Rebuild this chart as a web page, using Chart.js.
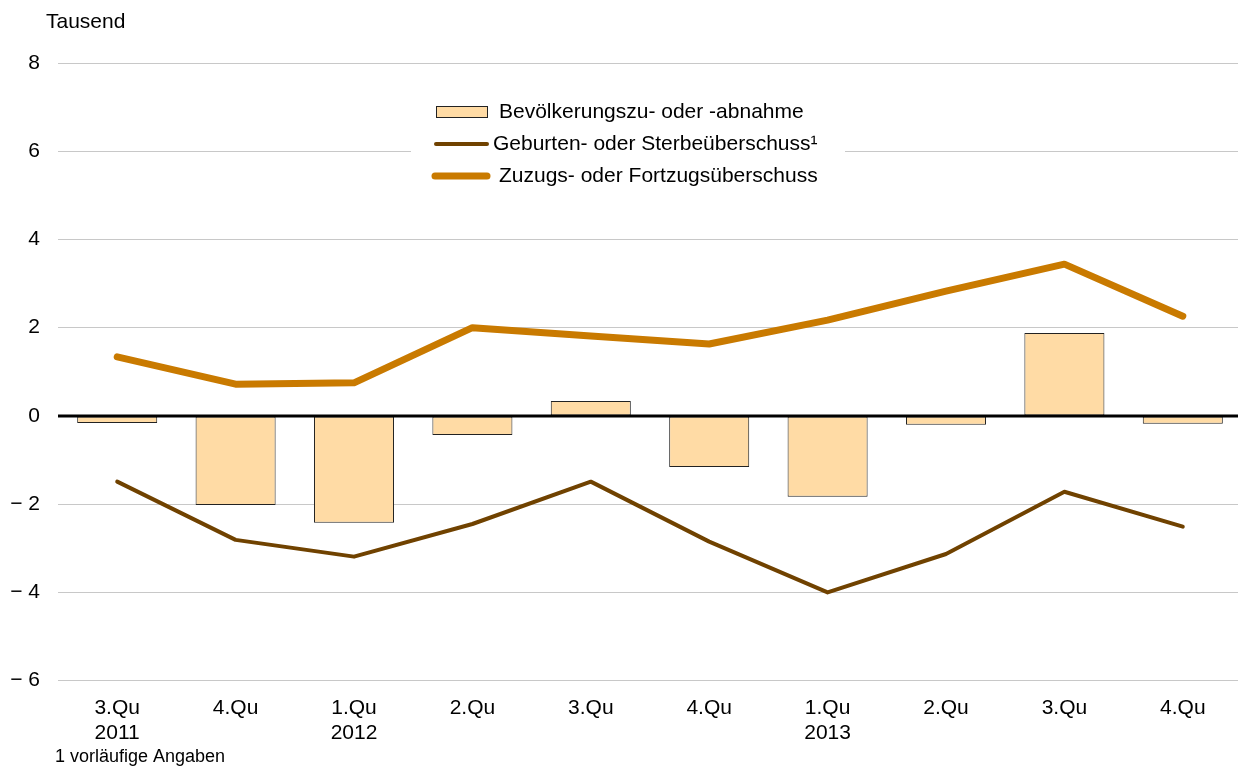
<!DOCTYPE html>
<html>
<head>
<meta charset="utf-8">
<script src="https://cdn.jsdelivr.net/npm/chart.js@4.4.1/dist/chart.umd.min.js"></script>
<style>
html,body{margin:0;padding:0;background:#fff;overflow:hidden;}
#wrap{position:relative;width:1242px;height:766px;}
</style>
</head>
<body>
<div id="wrap"><canvas id="c" width="1242" height="766"></canvas></div>
<script>
const categories = [["3.Qu","2011"],["4.Qu",""],["1.Qu","2012"],["2.Qu",""],["3.Qu",""],["4.Qu",""],["1.Qu","2013"],["2.Qu",""],["3.Qu",""],["4.Qu",""]];
const bevoelkerung = [-0.16, -2.02, -2.42, -0.43, 0.34, -1.16, -1.83, -0.20, 1.88, -0.18];
const geburten = [-1.49, -2.81, -3.19, -2.45, -1.49, -2.85, -4.00, -3.13, -1.72, -2.51];
const zuzugs = [1.34, 0.72, 0.75, 2.00, 1.81, 1.63, 2.17, 2.83, 3.44, 2.26];
const yTickLabels = {"8":"8","6":"6","4":"4","2":"2","0":"0","-2":"\u2212 2","-4":"\u2212 4","-6":"\u2212 6"};
const legendLabels = ["Bevölkerungszu- oder -abnahme","Geburten- oder Sterbeüberschuss¹","Zuzugs- oder Fortzugsüberschuss"];

const FONT = "'Liberation Sans', Arial, sans-serif";
const COL_BAR = "#FFDBA5", COL_BROWN = "#704200", COL_ORANGE = "#C97A00";

const extras = {
  id: 'extras',
  afterDatasetsDraw(chart) {
    const ctx = chart.ctx, y = chart.scales.y, a = chart.chartArea;
    ctx.save();
    ctx.strokeStyle = '#000'; ctx.lineWidth = 3;
    const y0 = Math.round(y.getPixelForValue(0));
    ctx.beginPath(); ctx.moveTo(a.left, y0); ctx.lineTo(1242, y0); ctx.stroke();
    ctx.restore();
  },
  afterDraw(chart) {
    const ctx = chart.ctx;
    ctx.save();
    ctx.fillStyle = '#fff';
    ctx.fillRect(411, 92, 434, 100);
    ctx.font = "21px " + FONT;
    ctx.fillStyle = '#000';
    ctx.textBaseline = 'middle';
    ctx.textAlign = 'left';
    ctx.fillStyle = COL_BAR; ctx.fillRect(436.5, 106.5, 51, 11);
    ctx.strokeStyle = '#222'; ctx.lineWidth = 1; ctx.strokeRect(436.5, 106.5, 51, 11);
    ctx.fillStyle = '#000'; ctx.fillText(legendLabels[0], 499, 112);
    ctx.lineCap = 'round';
    ctx.strokeStyle = COL_BROWN; ctx.lineWidth = 4;
    ctx.beginPath(); ctx.moveTo(436, 144); ctx.lineTo(487, 144); ctx.stroke();
    ctx.fillText(legendLabels[1], 493, 144);
    ctx.strokeStyle = COL_ORANGE; ctx.lineWidth = 7;
    ctx.beginPath(); ctx.moveTo(435, 176); ctx.lineTo(487, 176); ctx.stroke();
    ctx.fillText(legendLabels[2], 499, 176);
    ctx.font = "21px " + FONT;
    ctx.fillText("Tausend", 46, 22);
    ctx.font = "18px " + FONT;
    ctx.fillText("1 vorläufige Angaben", 55, 757);
    ctx.restore();
  }
};

new Chart(document.getElementById('c'), {
  data: {
    labels: categories,
    datasets: [
      { type: 'line', label: legendLabels[2], data: zuzugs, borderColor: COL_ORANGE, borderWidth: 7, pointRadius: 0, borderCapStyle: 'round', borderJoinStyle: 'round', tension: 0, order: 1 },
      { type: 'line', label: legendLabels[1], data: geburten, borderColor: COL_BROWN, borderWidth: 4, pointRadius: 0, borderCapStyle: 'round', borderJoinStyle: 'round', tension: 0, order: 2 },
      { type: 'bar', label: legendLabels[0], data: bevoelkerung, backgroundColor: COL_BAR, borderColor: '#222', borderWidth: 1, borderSkipped: false, barPercentage: 0.676, categoryPercentage: 1, order: 3 }
    ]
  },
  options: {
    responsive: false,
    animation: false,
    devicePixelRatio: 1,
    layout: { padding: { left: 0, right: 0, top: 63, bottom: 5 } },
    plugins: { legend: { display: false }, tooltip: { enabled: false } },
    scales: {
      x: {
        offset: true,
        grid: { display: false, drawTicks: false },
        border: { display: false },
        ticks: { color: '#000', font: { family: FONT, size: 21 }, padding: 15, maxRotation: 0, autoSkip: false, lineHeight: 0.98 }
      },
      y: {
        min: -6, max: 8,
        afterFit(s) { s.width = 58; },
        grid: { color: '#c8c8c8', lineWidth: 1, drawTicks: false },
        border: { display: false },
        ticks: { stepSize: 2, color: '#000', padding: 18, font: { family: FONT, size: 21 }, callback: v => yTickLabels[String(v)] }
      }
    }
  },
  plugins: [extras]
});
</script>
</body>
</html>
